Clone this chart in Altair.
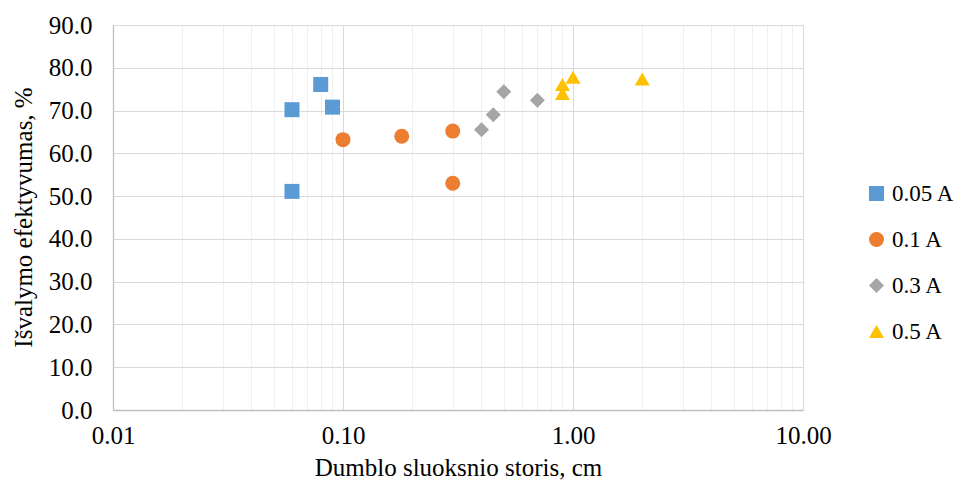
import altair as alt
import pandas as pd

series_names = ["0.05 A", "0.1 A", "0.3 A", "0.5 A"]
colors = ["#5B9BD5", "#ED7D31", "#A5A5A5", "#FFC000"]
shapes = ["square", "circle", "diamond", "triangle-up"]

x_005 = [0.06, 0.08, 0.09, 0.06]
y_005 = [70.2, 76.1, 70.8, 51.1]
x_01 = [0.10, 0.18, 0.30, 0.30]
y_01 = [63.2, 64.0, 65.2, 53.0]
x_03 = [0.40, 0.45, 0.50, 0.70]
y_03 = [65.5, 69.0, 74.4, 72.4]
x_05 = [0.90, 0.90, 1.00, 2.00]
y_05 = [76.1, 74.0, 77.8, 77.4]

x_tick_values = [0.01, 0.02, 0.03, 0.04, 0.05, 0.06, 0.07, 0.08, 0.09,
                 0.1, 0.2, 0.3, 0.4, 0.5, 0.6, 0.7, 0.8, 0.9,
                 1, 2, 3, 4, 5, 6, 7, 8, 9, 10]
y_tick_values = [0, 10, 20, 30, 40, 50, 60, 70, 80, 90]

rows = []
for name, xs, ys in zip(series_names,
                        [x_005, x_01, x_03, x_05],
                        [y_005, y_01, y_03, y_05]):
    for xv, yv in zip(xs, ys):
        rows.append({"series": name, "x": xv, "y": yv})
df = pd.DataFrame(rows)

FONT = "Liberation Serif"
major_test = "abs(log(datum.value)/LN10 - round(log(datum.value)/LN10)) < 0.001"

chart = alt.Chart(df).mark_point(filled=True, opacity=1, size=225, strokeWidth=0).encode(
    x=alt.X("x:Q",
            scale=alt.Scale(type="log", domain=[0.01, 10]),
            axis=alt.Axis(values=x_tick_values,
                          labelExpr=f"({major_test}) ? format(datum.value, '.2f') : ''",
                          title="Dumblo sluoksnio storis, cm",
                          ticks=False,
                          grid=True,
                          gridColor=alt.condition(major_test, alt.value("#d9d9d9"), alt.value("#efefef")),
                          gridWidth=1,
                          domainColor="#bfbfbf",
                          domainWidth=1.3,
                          labelFont=FONT, labelFontSize=25, labelColor="#000000",
                          labelPadding=13, labelOverlap=False, labelFlush=False,
                          titleFont=FONT, titleFontSize=25, titleFontWeight="normal",
                          titleColor="#000000", titleX=345, titleY=45)),
    y=alt.Y("y:Q",
            scale=alt.Scale(domain=[0, 90], nice=False),
            axis=alt.Axis(values=y_tick_values, format=".1f",
                          title="Išvalymo efektyvumas, %",
                          ticks=False,
                          grid=True, gridColor="#d9d9d9", gridWidth=1,
                          domainColor="#bfbfbf", domainWidth=1.3,
                          labelFont=FONT, labelFontSize=25, labelColor="#000000",
                          labelPadding=21,
                          titleFont=FONT, titleFontSize=25, titleFontWeight="normal",
                          titleColor="#000000", titleX=-77, titleY=192)),
    color=alt.Color("series:N",
                    scale=alt.Scale(domain=series_names, range=colors),
                    legend=alt.Legend(title=None, orient="none", legendX=752, legendY=157,
                                      labelFont=FONT, labelFontSize=23, labelColor="#000000",
                                      labelOffset=4, rowPadding=22, symbolSize=225,
                                      symbolStrokeWidth=0, padding=0)),
    shape=alt.Shape("series:N",
                    scale=alt.Scale(domain=series_names, range=shapes),
                    legend=None),
).properties(
    width=690, height=385,
    autosize=alt.AutoSizeParams(type="none"),
    padding={"left": 105, "top": 17, "right": 156, "bottom": 73},
).configure_view(stroke=None).configure_legend(symbolOpacity=1)

chart.save("out.html", embed_options={"renderer": "svg", "actions": False})
